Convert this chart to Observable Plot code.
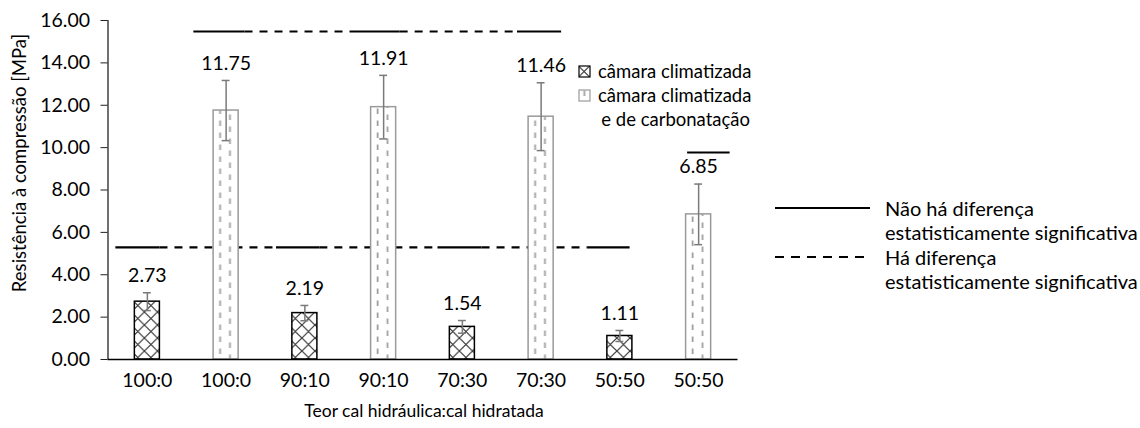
<!DOCTYPE html>
<html><head><meta charset="utf-8">
<script src="https://cdn.jsdelivr.net/npm/d3@7"></script>
<script src="https://cdn.jsdelivr.net/npm/@observablehq/plot@0.6"></script>
<style>
body{margin:0;background:#fff;}
#chart{width:1140px;height:428px;}
</style>
</head><body><div id="chart"></div>
<script>
// ---- data ----
const categories = ["100:0","100:0","90:10","90:10","70:30","70:30","50:50","50:50"];
const treatments = ["clim","carb","clim","carb","clim","carb","clim","carb"];
const values = [2.73, 11.75, 2.19, 11.91, 1.54, 11.46, 1.11, 6.85];
const errors = [0.42, 1.42, 0.36, 1.50, 0.30, 1.60, 0.26, 1.43];
const yTicks = [0, 2, 4, 6, 8, 10, 12, 14, 16];

// significance lines: level (MPa), from / to (category index units), type
const sigLevel = [15.48, 15.48, 15.48, 15.48, 15.48,
                  5.29, 5.29, 5.29, 5.29, 5.29, 5.29, 5.29,
                  9.77];
const sigFrom  = [0.59, 1.24, 2.63, 3.21, 4.70,
                  -0.40, 0.16, 1.64, 2.19, 3.69, 4.25, 5.59,
                  6.86];
const sigTo    = [1.24, 2.63, 3.21, 4.70, 5.26,
                  0.16, 1.64, 2.19, 3.69, 4.25, 5.59, 6.13,
                  7.40];
const sigType  = ["solid","dashed","solid","dashed","solid",
                  "solid","dashed","solid","dashed","solid","dashed","solid",
                  "solid"];

const barLegend = ["câmara climatizada", "câmara climatizada", "e de carbonatação"];
const sigLegend = ["Não há diferença", "estatisticamente significativa", "Há diferença", "estatisticamente significativa"];
const xTitle = "Teor cal hidráulica:cal hidratada";
const yTitle = "Resistência à compressão [MPa]";

// ---- tables ----
const bars = categories.map((c, i) => ({i, c, t: treatments[i], v: values[i], e: errors[i]}));
const sig = sigLevel.map((y, k) => ({y, x1: sigFrom[k], x2: sigTo[k], type: sigType[k]}));
const hw = 0.159; // bar half width in band units
const FONT = "Lato, 'Open Sans', sans-serif";
const FS_NUM = 19.5;   // tick + value labels
const FS_TITLE = 17.5; // axis titles
const FS_LEG = 20;     // legends

const chart = Plot.plot({
  width: 1140, height: 428,
  marginLeft: 107.5, marginRight: 402.5, marginTop: 20, marginBottom: 69,
  x: {domain: [-0.5, 7.5], axis: null},
  y: {domain: [0, 16], axis: null},
  style: {fontFamily: FONT, fontSize: FS_NUM + "px", color: "#000", background: "#fff"},
  marks: [
    Plot.ruleY(sig.filter(d => d.type === "solid"), {y: "y", x1: "x1", x2: "x2", stroke: "#000", strokeWidth: 2.2}),
    Plot.ruleY(sig.filter(d => d.type === "dashed"), {y: "y", x1: "x1", x2: "x2", stroke: "#000", strokeWidth: 2.2, strokeDasharray: "8,7"}),
    Plot.rectY(bars.filter(d => d.t === "clim"), {x1: d => d.i - hw, x2: d => d.i + hw, y1: 0, y2: "v", fill: "url(#hatch)", stroke: "#000", strokeWidth: 1.5}),
    Plot.rectY(bars.filter(d => d.t === "carb"), {x1: d => d.i - hw, x2: d => d.i + hw, y1: 0, y2: "v", fill: "url(#vdash)", stroke: "#9a9a9a", strokeWidth: 1.5}),
    Plot.ruleX(bars, {x: "i", y1: d => d.v - d.e, y2: d => d.v + d.e, stroke: "#7a7a7a", strokeWidth: 1.5}),
    Plot.ruleY(bars, {y: d => d.v + d.e, x1: d => d.i - 0.05, x2: d => d.i + 0.05, stroke: "#7a7a7a", strokeWidth: 1.5}),
    Plot.ruleY(bars, {y: d => d.v - d.e, x1: d => d.i - 0.05, x2: d => d.i + 0.05, stroke: "#7a7a7a", strokeWidth: 1.5}),
    Plot.text(bars, {x: "i", y: d => d.v + d.e + 0.8, text: d => d.v.toFixed(2), fontSize: FS_NUM, fill: "#000"}),
    Plot.ruleX([-0.5], {stroke: "#222", strokeWidth: 1.3}),
    Plot.ruleY([0], {stroke: "#000", strokeWidth: 1.5}),
    Plot.axisY({ticks: yTicks, tickFormat: d => d.toFixed(2), tickSize: 7, tickPadding: 11, label: null, fontSize: FS_NUM, stroke: "#222"}),
    Plot.axisX({ticks: d3.range(categories.length), tickFormat: i => categories[i], tickSize: 0, tickPadding: 14, label: null, fontSize: FS_NUM})
  ]
});

document.getElementById("chart").appendChild(chart);
const svg = d3.select(chart);
svg.insert("defs", ":first-child").html(`
  <pattern id="hatch" patternUnits="userSpaceOnUse" width="13.125" height="13">
    <rect width="13.125" height="13" fill="#fff"/>
    <path d="M0,0L13.125,13M13.125,0L0,13" stroke="#3a3a3a" stroke-width="1.2"/>
  </pattern>
  <pattern id="vdash" patternUnits="userSpaceOnUse" width="19.6875" height="12">
    <rect width="19.6875" height="12" fill="#fff"/>
    <line x1="3.56" y1="0.5" x2="3.56" y2="6" stroke="#a0a0a0" stroke-width="1.8"/>
    <line x1="13.4" y1="6.5" x2="13.4" y2="12" stroke="#a0a0a0" stroke-width="1.8"/>
  </pattern>`);

const txt = (x, y, s, fs, anchor = "start", rot = 0) => svg.append("text")
  .attr("transform", `translate(${x},${y}) rotate(${rot})`)
  .attr("text-anchor", anchor).attr("dominant-baseline", "central")
  .attr("font-family", FONT).attr("font-size", fs).attr("fill", "#000").text(s);

// axis titles
txt(424, 410, xTitle, FS_TITLE, "middle");
txt(19, 163, yTitle, 18.5, "middle", -90);

// bar legend (inside the plot)
svg.append("rect").attr("x", 579).attr("y", 66).attr("width", 11).attr("height", 11).attr("fill", "url(#hatch)").attr("stroke", "#000").attr("stroke-width", 1.2);
txt(598, 71, barLegend[0], 18.5);
svg.append("rect").attr("x", 579).attr("y", 90).attr("width", 11).attr("height", 11).attr("fill", "url(#vdash)").attr("stroke", "#9a9a9a").attr("stroke-width", 1.2);
txt(598, 95, barLegend[1], 18.5);
txt(750, 119, barLegend[2], 18.5, "end");

// significance legend (right)
svg.append("line").attr("x1", 775).attr("x2", 870).attr("y1", 208).attr("y2", 208).attr("stroke", "#000").attr("stroke-width", 1.8);
txt(885, 208, sigLegend[0], FS_LEG);
txt(885, 232, sigLegend[1], FS_LEG);
svg.append("line").attr("x1", 775).attr("x2", 870).attr("y1", 257).attr("y2", 257).attr("stroke", "#000").attr("stroke-width", 1.8).attr("stroke-dasharray", "9,7");
txt(885, 257, sigLegend[2], FS_LEG);
txt(885, 281, sigLegend[3], FS_LEG);
</script>
</body></html>
